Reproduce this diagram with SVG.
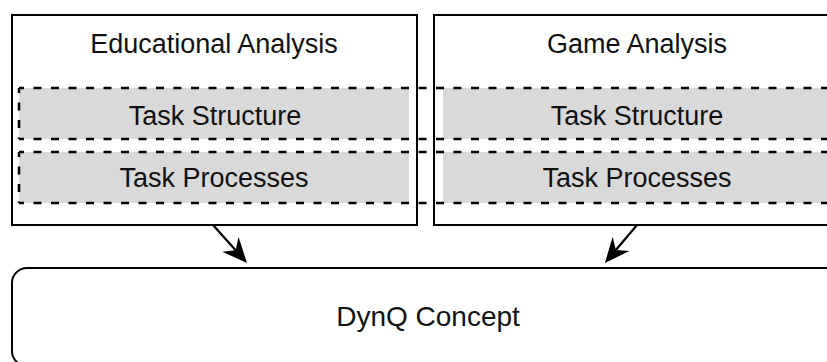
<svg xmlns="http://www.w3.org/2000/svg" width="827" height="362" viewBox="0 0 827 362">
  <style>
    .box { fill: #ffffff; stroke: #000000; stroke-width: 2; }
    .band { fill: #d9d9d9; stroke: none; }
    .dash { fill: none; stroke: #000000; stroke-width: 2.6; stroke-dasharray: 8 9.5; stroke-dashoffset: 3; }
    .lbl { font-family: "Liberation Sans", Arial, sans-serif; font-size: 27px; fill: #111111; text-anchor: middle; }
    .big { font-size: 28px; }
    .conn { fill: none; stroke: #000000; stroke-width: 2.2; }
  </style>
  <defs>
    <marker id="arrow" markerUnits="userSpaceOnUse" markerWidth="40" markerHeight="40" refX="0" refY="0" orient="auto" overflow="visible">
      <path d="M15,0 L-10,-11 L-2,0 L-10,11 Z" fill="#000000"/>
    </marker>
  </defs>
  <rect width="827" height="362" fill="#ffffff"/>

  <g id="educational-analysis">
    <rect class="box" x="12" y="15" width="405" height="210"/>
    <text class="lbl" x="214" y="53">Educational Analysis</text>
  </g>

  <g id="game-analysis">
    <rect class="box" x="434" y="15" width="405" height="210"/>
    <text class="lbl" x="637" y="53">Game Analysis</text>
  </g>

  <g id="task-structure">
    <rect class="band" x="19" y="88" width="390" height="51"/>
    <rect class="band" x="443" y="88" width="400" height="51"/>
    <path class="dash" d="M19,88 H900"/>
    <path class="dash" d="M19,88 V139"/>
    <path class="dash" d="M19,139 H900"/>
    <text class="lbl" x="215" y="125">Task Structure</text>
    <text class="lbl" x="637" y="125">Task Structure</text>
  </g>

  <g id="task-processes">
    <rect class="band" x="19" y="152" width="390" height="51"/>
    <rect class="band" x="443" y="152" width="400" height="51"/>
    <path class="dash" d="M19,152 H900"/>
    <path class="dash" d="M19,152 V203"/>
    <path class="dash" d="M19,203 H900"/>
    <text class="lbl" x="214" y="187">Task Processes</text>
    <text class="lbl" x="637" y="187">Task Processes</text>
  </g>

  <g id="dynq-concept">
    <rect class="box" x="12" y="268" width="832" height="98" rx="15" ry="15"/>
    <text class="lbl big" x="428" y="326">DynQ Concept</text>
  </g>

  <g id="connectors">
    <line class="conn" x1="213" y1="225" x2="237" y2="251.8" marker-end="url(#arrow)"/>
    <line class="conn" x1="637" y1="225" x2="614.6" y2="251.5" marker-end="url(#arrow)"/>
  </g>
</svg>
